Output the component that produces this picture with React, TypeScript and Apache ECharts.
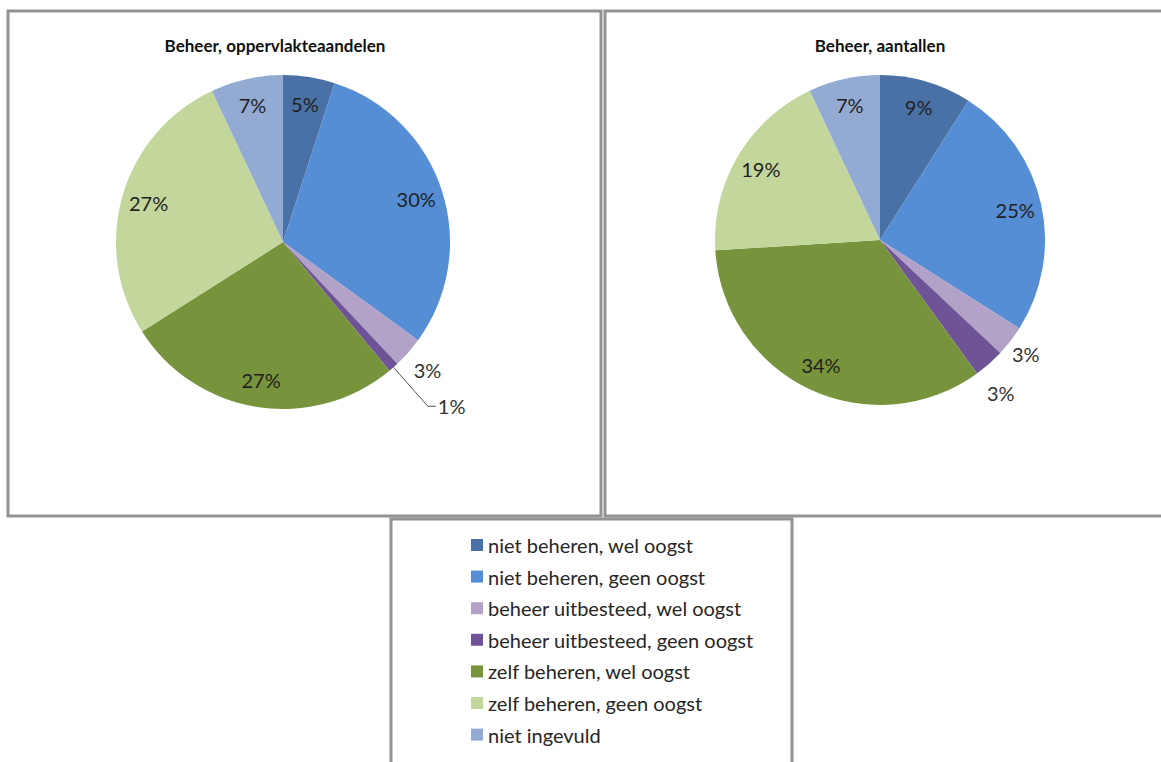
import React, { useEffect, useRef } from "react";
import * as echarts from "echarts";

const categories = [
  "niet beheren, wel oogst",
  "niet beheren, geen oogst",
  "beheer uitbesteed, wel oogst",
  "beheer uitbesteed, geen oogst",
  "zelf beheren, wel oogst",
  "zelf beheren, geen oogst",
  "niet ingevuld",
];
const areaShares = [5, 30, 3, 1, 27, 27, 7];
const countShares = [9, 25, 3, 3, 34, 19, 7];
const chartTitles = ["Beheer, oppervlakteaandelen", "Beheer, aantallen"];
const sliceColors = ["#4A71A5", "#558ED5", "#B3A2C7", "#6F5397", "#77933C", "#C3D69B", "#93AAD3"];

const FONT = "Lato, 'Open Sans', sans-serif";
const TEXT_COLOR = "#1f1f1f";

type OutsideCfg = { len: number; len2: number; line: boolean; dist: number };

const leftOutside: Record<number, OutsideCfg> = {
  2: { len: 26, len2: 0, line: false, dist: -14 },
  3: { len: 52, len2: 8, line: true, dist: 2 },
};
const rightOutside: Record<number, OutsideCfg> = {
  2: { len: 21, len2: 0, line: false, dist: -15 },
  3: { len: 39, len2: 0, line: false, dist: -28 },
};

function buildPie(values: number[], cx: number, cy: number, r: number, outside: Record<number, OutsideCfg>) {
  const main = {
    type: "pie",
    center: [cx, cy],
    radius: [0, r],
    startAngle: 90,
    clockwise: true,
    avoidLabelOverlap: false,
    silent: true,
    label: { show: false },
    labelLine: { show: false },
    itemStyle: { borderWidth: 0 },
    data: values.map((v, i) => ({
      value: v,
      name: categories[i],
      itemStyle: { color: sliceColors[i] },
    })),
  };
  const overlay = {
    type: "pie",
    center: [cx, cy],
    radius: [Math.round(r * 0.64), r],
    startAngle: 90,
    clockwise: true,
    avoidLabelOverlap: false,
    silent: true,
    z: 3,
    itemStyle: { color: "rgba(0,0,0,0)", borderWidth: 0 },
    label: {
      show: true,
      position: "inside",
      formatter: (p: any) => `${p.value}%`,
      fontFamily: FONT,
      fontSize: 20,
      color: TEXT_COLOR,
    },
    labelLine: { show: false },
    data: values.map((v, i) => {
      const o = outside[i];
      if (!o) return { value: v, name: categories[i] };
      return {
        value: v,
        name: categories[i],
        label: { position: "outside", distanceToLabelLine: o.dist, color: "#333" },
        labelLine: {
          show: o.line,
          length: o.len,
          length2: o.len2,
          smooth: false,
          lineStyle: { color: "#555", width: 1 },
        },
      };
    }),
  };
  return [main, overlay];
}

export default function App() {
  const ref = useRef<HTMLDivElement>(null);
  useEffect(() => {
    if (!ref.current) return;
    const chart = echarts.init(ref.current, undefined, { renderer: "svg" });
    const border = { fill: "none", stroke: "#939393", lineWidth: 3 };
    const titleStyle = { fontFamily: FONT, fontWeight: "bold", fontSize: 17, color: "#111" };
    chart.setOption({
      animation: false,
      backgroundColor: "#ffffff",
      title: [
        { text: chartTitles[0], left: 270, top: 32, textAlign: "center", textStyle: titleStyle },
        { text: chartTitles[1], left: 875, top: 32, textAlign: "center", textStyle: titleStyle },
      ],
      legend: {
        orient: "vertical",
        left: 466,
        top: 528,
        itemWidth: 12,
        itemHeight: 12,
        itemGap: 7.6,
        icon: "rect",
        selectedMode: false,
        data: categories,
        textStyle: { fontFamily: FONT, fontSize: 20, color: "#262626", lineHeight: 24 },
      },
      graphic: [
        { type: "rect", shape: { x: 8, y: 11, width: 593, height: 505 }, style: border, silent: true },
        { type: "rect", shape: { x: 605, y: 11, width: 600, height: 505 }, style: border, silent: true },
        { type: "rect", shape: { x: 391, y: 519, width: 401, height: 260 }, style: border, silent: true },
      ],
      series: [
        ...buildPie(areaShares, 283, 242, 167, leftOutside),
        ...buildPie(countShares, 880, 240, 165, rightOutside),
      ],
    });
    return () => chart.dispose();
  }, []);
  return (
    <div
      ref={ref}
      style={{ position: "absolute", left: 0, top: 0, width: 1161, height: 762 }}
    />
  );
}
